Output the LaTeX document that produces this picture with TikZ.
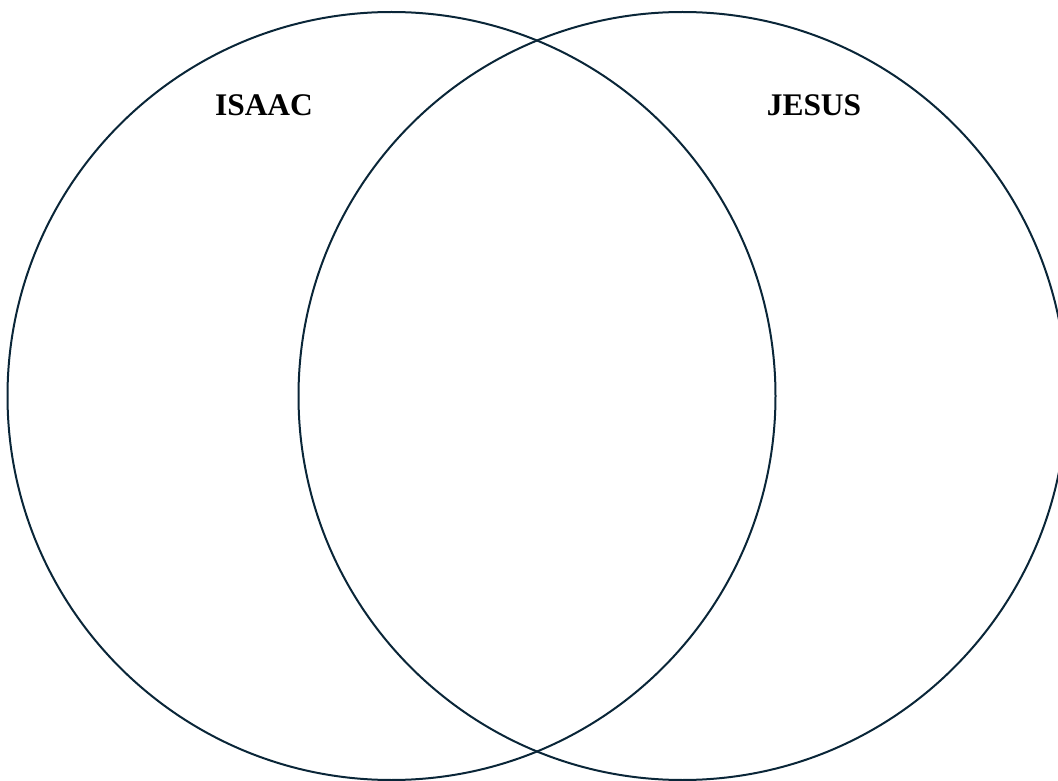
\documentclass[tikz,border=0pt]{standalone}
\usepackage{fontspec}
\setmainfont{Liberation Serif}
\definecolor{ringnavy}{RGB}{10,38,56}

\begin{document}
\begin{tikzpicture}[
  x=0.75pt,y=-0.75pt,
  ring/.style={circle,draw=ringnavy,line width=1.5pt,minimum size=576pt,inner sep=0pt},
  setname/.style={font=\bfseries\fontsize{23.6}{28}\selectfont,anchor=base,inner sep=0pt}
]
  \useasboundingbox (0,0) rectangle (1058,781);

  \node[ring] (isaac) at (391.5,396) {};
  \node[ring] (jesus) at (682.5,396) {};

  \node[setname] (isaaclabel) at (264,116) {ISAAC};
  \node[setname] (jesuslabel) at (814,116) {JESUS};
\end{tikzpicture}
\end{document}
